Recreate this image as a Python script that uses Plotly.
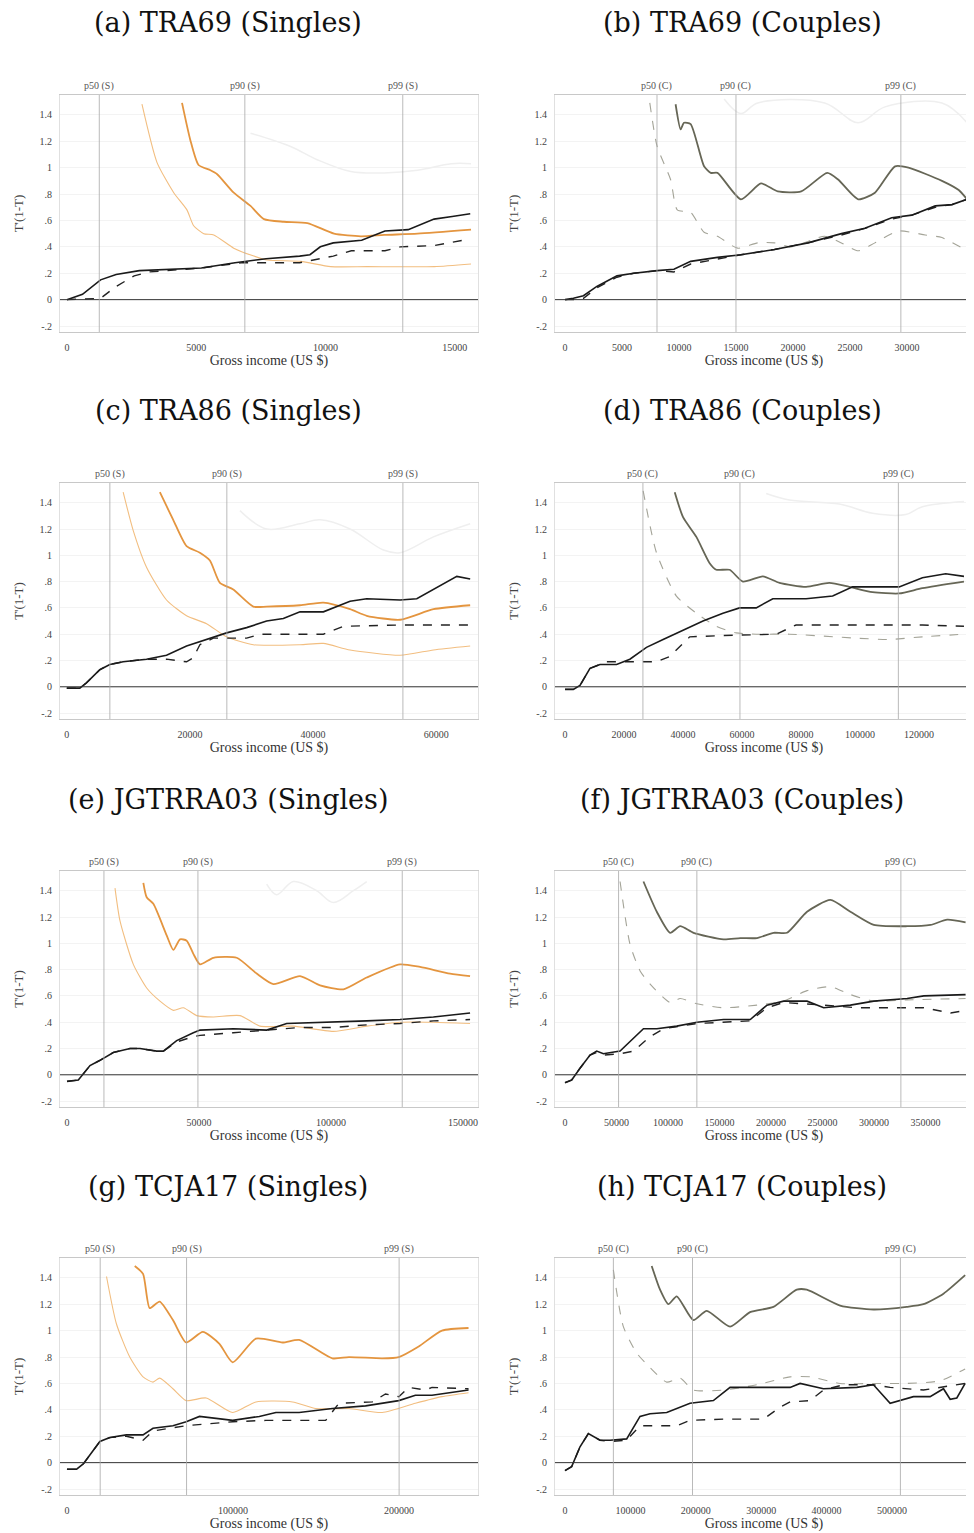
import plotly.graph_objects as go

# ---------------- data ----------------
titles = ["(a) TRA69 (Singles)", "(b) TRA69 (Couples)", "(c) TRA86 (Singles)", "(d) TRA86 (Couples)",
          "(e) JGTRRA03 (Singles)", "(f) JGTRRA03 (Couples)", "(g) TCJA17 (Singles)", "(h) TCJA17 (Couples)"]

y_tickvals = [-0.2, 0, 0.2, 0.4, 0.6, 0.8, 1.0, 1.2, 1.4]
y_ticktext = ["-.2", "0", ".2", ".4", ".6", ".8", "1", "1.2", "1.4"]

x_ticks_a = [0, 5000, 10000, 15000]
x_ticks_b = [0, 5000, 10000, 15000, 20000, 25000, 30000]
x_ticks_c = [0, 20000, 40000, 60000]
x_ticks_d = [0, 20000, 40000, 60000, 80000, 100000, 120000]
x_ticks_e = [0, 50000, 100000, 150000]
x_ticks_f = [0, 50000, 100000, 150000, 200000, 250000, 300000, 350000]
x_ticks_g = [0, 100000, 200000]
x_ticks_h = [0, 100000, 200000, 300000, 400000, 500000]

pct_a = [1250, 6880, 12990]
pct_b = [8070, 15000, 29470]
pct_c = [7000, 26000, 54600]
pct_d = [26400, 59300, 113000]
pct_e = [14000, 49600, 127000]
pct_f = [52000, 128000, 326000]
pct_g = [20000, 72000, 200000]
pct_h = [74000, 195000, 513000]

# (a) TRA69 Singles
a_solid_x = [0, 600, 1300, 1900, 2800, 3900, 5200, 6500, 6850, 7700, 9000, 9400, 9800, 10300, 11400, 12300, 13200, 13600, 14200, 14900, 15600]
a_solid_y = [0, 0.04, 0.15, 0.19, 0.22, 0.23, 0.24, 0.28, 0.29, 0.31, 0.33, 0.34, 0.40, 0.43, 0.45, 0.52, 0.53, 0.56, 0.61, 0.63, 0.65]
a_dash_x = [0, 1300, 1900, 2600, 3200, 5200, 6800, 7700, 9000, 10300, 11000, 12300, 12900, 14200, 15600]
a_dash_y = [0, 0.01, 0.10, 0.18, 0.21, 0.24, 0.28, 0.28, 0.28, 0.33, 0.37, 0.37, 0.40, 0.41, 0.46]
a_up_x = [4450, 4770, 5090, 5550, 5810, 6450, 7100, 7620, 8390, 9300, 10330, 11370, 12270, 13560, 15630]
a_up_y = [1.49, 1.21, 1.02, 0.98, 0.95, 0.81, 0.71, 0.61, 0.59, 0.58, 0.50, 0.48, 0.49, 0.50, 0.53]
a_lo_x = [2900, 3480, 4130, 4640, 4900, 5290, 5680, 6450, 7230, 7750, 9040, 10200, 11620, 14210, 15630]
a_lo_y = [1.48, 1.04, 0.81, 0.68, 0.56, 0.50, 0.49, 0.39, 0.33, 0.30, 0.29, 0.25, 0.25, 0.25, 0.27]
a_faint_x = [7100, 8650, 9680, 10980, 12270, 13560, 14860, 15630]
a_faint_y = [1.26, 1.16, 1.06, 0.97, 0.96, 0.98, 1.03, 1.03]

# (b) TRA69 Couples
b_solid_x = [0, 735, 1617, 2793, 4557, 6027, 8085, 9555, 11025, 13377, 15435, 18375, 21315, 24255, 26313, 28665, 30429, 32487, 33957, 35280]
b_solid_y = [0, 0.01, 0.03, 0.10, 0.18, 0.20, 0.22, 0.23, 0.29, 0.32, 0.34, 0.38, 0.43, 0.50, 0.54, 0.62, 0.64, 0.71, 0.72, 0.76]
b_dash_x = [0, 735, 1617, 2793, 4557, 6027, 8085, 9555, 11025, 13377, 15435, 18375, 21315, 24255, 26313, 28665, 30429, 32487, 33957, 35280]
b_dash_y = [0, 0.0, 0.01, 0.09, 0.17, 0.20, 0.22, 0.21, 0.27, 0.31, 0.34, 0.38, 0.43, 0.49, 0.54, 0.61, 0.64, 0.70, 0.72, 0.76]
b_up_x = [9702, 10143, 10437, 11025, 12201, 12789, 13377, 15435, 17199, 18669, 20727, 23010, 23961, 25725, 27195, 28959, 30135, 33075, 34545, 35280]
b_up_y = [1.48, 1.29, 1.34, 1.33, 1.01, 0.96, 0.96, 0.76, 0.88, 0.82, 0.82, 0.96, 0.91, 0.76, 0.81, 1.01, 1.00, 0.90, 0.83, 0.76]
b_lo_x = [7438, 8085, 9261, 9849, 11025, 12201, 13377, 15141, 16905, 18375, 19845, 22785, 24255, 25725, 27195, 29253, 31605, 33075, 35280]
b_lo_y = [1.49, 1.16, 0.91, 0.68, 0.66, 0.51, 0.48, 0.39, 0.43, 0.43, 0.40, 0.48, 0.43, 0.37, 0.43, 0.52, 0.49, 0.47, 0.37]
b_faint_x = [13965, 15435, 16905, 22785, 25725, 28077, 33075, 35280]
b_faint_y = [1.52, 1.41, 1.49, 1.49, 1.34, 1.46, 1.49, 1.34]

# (c) TRA86 Singles
c_solid_x = [0, 2114, 3198, 5366, 6992, 9160, 12954, 16206, 19458, 22710, 25962, 29214, 32466, 35176, 37886, 41680, 46016, 48726, 54146, 56856, 59566, 63360, 65528]
c_solid_y = [-0.01, -0.01, 0.03, 0.13, 0.17, 0.19, 0.21, 0.24, 0.31, 0.36, 0.41, 0.45, 0.50, 0.52, 0.57, 0.57, 0.65, 0.67, 0.66, 0.67, 0.74, 0.84, 0.82]
c_dash_x = [0, 2114, 3198, 5366, 6992, 9160, 12954, 16206, 19458, 20542, 21626, 23794, 25962, 29214, 31382, 41680, 44932, 54146, 65528]
c_dash_y = [-0.01, -0.01, 0.03, 0.13, 0.17, 0.19, 0.21, 0.21, 0.19, 0.22, 0.32, 0.37, 0.37, 0.37, 0.40, 0.40, 0.46, 0.47, 0.47]
c_up_x = [15122, 17290, 19458, 21626, 23252, 24878, 27046, 30298, 32466, 37886, 41680, 46016, 48726, 54146, 59566, 65528]
c_up_y = [1.48, 1.27, 1.07, 1.02, 0.96, 0.79, 0.74, 0.61, 0.61, 0.62, 0.64, 0.59, 0.54, 0.51, 0.59, 0.62]
c_lo_x = [9160, 10786, 12954, 16206, 19458, 22710, 25962, 30298, 37886, 41680, 46016, 54146, 59566, 65528]
c_lo_y = [1.48, 1.19, 0.91, 0.66, 0.54, 0.48, 0.38, 0.32, 0.32, 0.33, 0.28, 0.24, 0.28, 0.31]
c_faint_x = [28130, 32466, 37886, 41138, 46016, 51436, 54146, 59566, 65528]
c_faint_y = [1.34, 1.20, 1.24, 1.27, 1.20, 1.04, 1.02, 1.14, 1.24]

# (d) TRA86 Couples
d_solid_x = [0, 2818, 5072, 8453, 11834, 17469, 21977, 27612, 33247, 40009, 46771, 53533, 59168, 64803, 70438, 81708, 90724, 97486, 113264, 121153, 129042, 135240]
d_solid_y = [-0.02, -0.02, 0.01, 0.14, 0.17, 0.17, 0.21, 0.30, 0.36, 0.43, 0.50, 0.56, 0.60, 0.60, 0.67, 0.67, 0.69, 0.76, 0.76, 0.83, 0.86, 0.84]
d_dash_x = [0, 2818, 5072, 8453, 14088, 19723, 30993, 35501, 42263, 53533, 71565, 78327, 98613, 121153, 135240]
d_dash_y = [-0.02, -0.02, 0.01, 0.14, 0.19, 0.19, 0.19, 0.23, 0.38, 0.39, 0.40, 0.47, 0.47, 0.47, 0.46]
d_up_x = [37191, 40009, 44517, 49025, 51279, 55787, 60296, 67058, 72692, 81708, 89597, 96359, 104248, 113264, 121153, 135240]
d_up_y = [1.48, 1.29, 1.14, 0.94, 0.89, 0.89, 0.80, 0.84, 0.79, 0.76, 0.79, 0.76, 0.72, 0.71, 0.75, 0.80]
d_lo_x = [26485, 30993, 37755, 44517, 51279, 58041, 64803, 76073, 98613, 109883, 121153, 135240]
d_lo_y = [1.49, 1.02, 0.69, 0.56, 0.46, 0.41, 0.40, 0.40, 0.37, 0.36, 0.38, 0.40]
d_faint_x = [68184, 76073, 92978, 104248, 115518, 121153, 135240]
d_faint_y = [1.47, 1.42, 1.39, 1.32, 1.31, 1.37, 1.41]

# (e) JGTRRA03 Singles
e_solid_x = [0, 4294, 8715, 12504, 17556, 23871, 27660, 33975, 36501, 41553, 47868, 50394, 63024, 75654, 83232, 100914, 113544, 126174, 138804, 152697]
e_solid_y = [-0.05, -0.04, 0.07, 0.11, 0.17, 0.20, 0.20, 0.18, 0.18, 0.26, 0.32, 0.34, 0.35, 0.34, 0.39, 0.40, 0.41, 0.42, 0.44, 0.47]
e_dash_x = [0, 4294, 8715, 12504, 17556, 23871, 27660, 33975, 36501, 41553, 47868, 50394, 63024, 75654, 88284, 100914, 113544, 126174, 138804, 152697]
e_dash_y = [-0.05, -0.04, 0.07, 0.11, 0.17, 0.20, 0.20, 0.18, 0.18, 0.25, 0.29, 0.30, 0.32, 0.34, 0.36, 0.36, 0.38, 0.39, 0.41, 0.42]
e_up_x = [28923, 30186, 32712, 37764, 40290, 42816, 45342, 47868, 50394, 55446, 64287, 71865, 78180, 88284, 95862, 104727, 113544, 126174, 133752, 145119, 152697]
e_up_y = [1.46, 1.35, 1.30, 1.06, 0.95, 1.03, 1.02, 0.92, 0.84, 0.89, 0.89, 0.77, 0.69, 0.75, 0.68, 0.65, 0.74, 0.84, 0.82, 0.77, 0.75]
e_lo_x = [18187, 20082, 25134, 30186, 35238, 40290, 44079, 49131, 55446, 65550, 73128, 85758, 100914, 113544, 126174, 138804, 152697]
e_lo_y = [1.42, 1.17, 0.84, 0.66, 0.56, 0.49, 0.51, 0.45, 0.44, 0.45, 0.37, 0.37, 0.33, 0.37, 0.40, 0.40, 0.39]
e_faint_x = [75654, 79443, 85758, 94599, 100914, 108489, 113544]
e_faint_y = [1.45, 1.37, 1.47, 1.40, 1.31, 1.40, 1.47]

# (f) JGTRRA03 Couples
f_solid_x = [0, 6480, 14580, 24300, 30780, 37260, 53460, 63180, 76140, 89100, 108540, 127980, 153900, 179820, 196020, 212220, 234900, 251100, 277020, 299700, 332100, 348300, 388800]
f_solid_y = [-0.06, -0.04, 0.05, 0.15, 0.18, 0.16, 0.18, 0.25, 0.35, 0.35, 0.37, 0.40, 0.42, 0.42, 0.53, 0.56, 0.56, 0.51, 0.53, 0.56, 0.58, 0.60, 0.61]
f_dash_x = [0, 6480, 14580, 24300, 30780, 37260, 53460, 66420, 82620, 95580, 127980, 179820, 196020, 212220, 251100, 283500, 348300, 374220, 388800]
f_dash_y = [-0.06, -0.04, 0.05, 0.15, 0.17, 0.15, 0.16, 0.18, 0.29, 0.35, 0.39, 0.41, 0.51, 0.55, 0.53, 0.51, 0.51, 0.47, 0.49]
f_up_x = [76140, 89100, 102060, 111780, 124740, 153900, 170100, 186300, 202500, 215460, 234900, 257580, 277020, 299700, 332100, 354780, 370980, 388800]
f_up_y = [1.47, 1.24, 1.08, 1.13, 1.08, 1.03, 1.04, 1.04, 1.08, 1.08, 1.24, 1.33, 1.24, 1.14, 1.13, 1.14, 1.18, 1.16]
f_lo_x = [53460, 63180, 72900, 82620, 102060, 111780, 127980, 153900, 186300, 212220, 234900, 257580, 277020, 299700, 332100, 388800]
f_lo_y = [1.47, 0.99, 0.79, 0.69, 0.55, 0.58, 0.54, 0.51, 0.53, 0.56, 0.64, 0.67, 0.61, 0.56, 0.57, 0.58]

# (g) TCJA17 Singles
g_solid_x = [0, 5800, 9800, 15800, 19800, 25800, 35800, 45800, 51800, 63800, 71800, 79800, 99800, 115800, 125800, 139800, 159800, 179800, 199800, 209800, 219800, 241800]
g_solid_y = [-0.05, -0.05, -0.01, 0.09, 0.16, 0.19, 0.21, 0.21, 0.26, 0.28, 0.31, 0.35, 0.32, 0.35, 0.38, 0.38, 0.41, 0.43, 0.47, 0.51, 0.51, 0.55]
g_dash_x = [0, 5800, 9800, 15800, 19800, 25800, 35800, 45800, 51800, 71800, 99800, 119800, 155800, 163800, 183800, 191800, 199800, 205800, 215800, 219800, 241800]
g_dash_y = [-0.05, -0.05, -0.01, 0.09, 0.16, 0.19, 0.20, 0.17, 0.24, 0.28, 0.31, 0.32, 0.32, 0.45, 0.46, 0.52, 0.50, 0.57, 0.55, 0.57, 0.56]
g_up_x = [40800, 45800, 49800, 55800, 63800, 71800, 81800, 91800, 99800, 113800, 129800, 139800, 159800, 169800, 189800, 199800, 211800, 225800, 241800]
g_up_y = [1.49, 1.43, 1.17, 1.22, 1.08, 0.91, 0.99, 0.90, 0.76, 0.94, 0.91, 0.93, 0.79, 0.80, 0.79, 0.80, 0.88, 1.00, 1.02]
g_lo_x = [23800, 29800, 37800, 45800, 51800, 55800, 63800, 71800, 83800, 99800, 113800, 135800, 149800, 169800, 189800, 209800, 225800, 241800]
g_lo_y = [1.41, 1.05, 0.80, 0.65, 0.61, 0.64, 0.56, 0.47, 0.49, 0.38, 0.46, 0.46, 0.41, 0.41, 0.38, 0.45, 0.50, 0.53]

# (h) TCJA17 Couples
h_solid_x = [0, 10200, 22950, 35700, 53550, 68850, 94350, 114750, 130050, 155550, 191250, 226950, 252450, 293250, 344250, 359550, 395250, 446250, 471750, 497250, 532950, 558450, 578850, 589050, 599250, 612000]
h_solid_y = [-0.06, -0.03, 0.12, 0.22, 0.17, 0.17, 0.18, 0.35, 0.37, 0.38, 0.45, 0.47, 0.57, 0.57, 0.57, 0.60, 0.56, 0.57, 0.59, 0.45, 0.50, 0.50, 0.56, 0.48, 0.49, 0.60]
h_dash_x = [0, 10200, 22950, 35700, 53550, 68850, 94350, 114750, 171000, 191250, 242250, 303450, 328950, 344250, 374850, 395250, 425850, 471750, 497250, 548250, 612000]
h_dash_y = [-0.06, -0.03, 0.12, 0.22, 0.17, 0.16, 0.17, 0.28, 0.28, 0.32, 0.33, 0.33, 0.42, 0.46, 0.47, 0.55, 0.59, 0.59, 0.57, 0.55, 0.60]
h_up_x = [132600, 145350, 158100, 170850, 196350, 216750, 252450, 283050, 318750, 354450, 369750, 420750, 471750, 522750, 548250, 578850, 612000]
h_up_y = [1.49, 1.31, 1.20, 1.26, 1.08, 1.15, 1.03, 1.14, 1.18, 1.31, 1.31, 1.19, 1.16, 1.18, 1.20, 1.28, 1.42]
h_lo_x = [73950, 89250, 109650, 130050, 155550, 175950, 196350, 242250, 293250, 344250, 374850, 420750, 471750, 522750, 573750, 612000]
h_lo_y = [1.46, 1.03, 0.83, 0.72, 0.61, 0.64, 0.55, 0.55, 0.59, 0.65, 0.65, 0.60, 0.60, 0.60, 0.62, 0.71]

x_ranges = [[-270, 15900], [-880, 35800], [-1100, 66800], [-3400, 138300],
            [-2650, 155700], [-9700, 396000], [-4200, 247500], [-15300, 624000]]
y_range = [-0.245, 1.55]

# ---------------- figure ----------------
OFF = 8                      # default page margin of the HTML body
W, H = 974 - OFF, 1533 - OFF
SERIF = "Liberation Serif"
TITLE_FONT = "DejaVu Serif"

panels = [
    dict(solid=(a_solid_x, a_solid_y), dash=(a_dash_x, a_dash_y), up=(a_up_x, a_up_y), lo=(a_lo_x, a_lo_y), faint=(a_faint_x, a_faint_y), ticks=x_ticks_a, pct=pct_a, tag="S"),
    dict(solid=(b_solid_x, b_solid_y), dash=(b_dash_x, b_dash_y), up=(b_up_x, b_up_y), lo=(b_lo_x, b_lo_y), faint=(b_faint_x, b_faint_y), ticks=x_ticks_b, pct=pct_b, tag="C"),
    dict(solid=(c_solid_x, c_solid_y), dash=(c_dash_x, c_dash_y), up=(c_up_x, c_up_y), lo=(c_lo_x, c_lo_y), faint=(c_faint_x, c_faint_y), ticks=x_ticks_c, pct=pct_c, tag="S"),
    dict(solid=(d_solid_x, d_solid_y), dash=(d_dash_x, d_dash_y), up=(d_up_x, d_up_y), lo=(d_lo_x, d_lo_y), faint=(d_faint_x, d_faint_y), ticks=x_ticks_d, pct=pct_d, tag="C"),
    dict(solid=(e_solid_x, e_solid_y), dash=(e_dash_x, e_dash_y), up=(e_up_x, e_up_y), lo=(e_lo_x, e_lo_y), faint=(e_faint_x, e_faint_y), ticks=x_ticks_e, pct=pct_e, tag="S"),
    dict(solid=(f_solid_x, f_solid_y), dash=(f_dash_x, f_dash_y), up=(f_up_x, f_up_y), lo=(f_lo_x, f_lo_y), faint=None, ticks=x_ticks_f, pct=pct_f, tag="C"),
    dict(solid=(g_solid_x, g_solid_y), dash=(g_dash_x, g_dash_y), up=(g_up_x, g_up_y), lo=(g_lo_x, g_lo_y), faint=None, ticks=x_ticks_g, pct=pct_g, tag="S"),
    dict(solid=(h_solid_x, h_solid_y), dash=(h_dash_x, h_dash_y), up=(h_up_x, h_up_y), lo=(h_lo_x, h_lo_y), faint=None, ticks=x_ticks_h, pct=pct_h, tag="C"),
]

# layout positions in page pixels
col_px = [(60, 478), (555, 973)]
row_px = [(95, 332), (483, 719), (871, 1107), (1258, 1495)]
title_y_px = [22, 411, 799, 1186]
col_center_px = [228, 742]


def px_x(v):
    return (v - OFF) / W


def px_y(v):
    return 1 - (v - OFF) / H


fig = go.Figure()
layout = dict(width=W, height=H, margin=dict(l=0, r=0, t=0, b=0, autoexpand=False),
              paper_bgcolor="white", plot_bgcolor="white", showlegend=False)
shapes, annotations = [], []

for i, p in enumerate(panels):
    r, c = divmod(i, 2)
    n = "" if i == 0 else str(i + 1)
    xa, ya = "x" + n, "y" + n
    x0, x1 = col_px[c]
    y0, y1 = row_px[r]
    layout["xaxis" + n] = dict(
        domain=[px_x(x0), min(1.0, px_x(x1))], range=x_ranges[i], anchor=ya, automargin=False,
        tickvals=p["ticks"], ticktext=[str(t) for t in p["ticks"]],
        showgrid=False, zeroline=False, showline=True, linecolor="#c8c8c8", linewidth=1, mirror=True,
        ticks="", ticklen=0, ticklabelstandoff=6, tickfont=dict(family=SERIF, size=10, color="#444"),
        title=dict(text="Gross income (US $)", font=dict(family=SERIF, size=14, color="#333"), standoff=0),
    )
    layout["yaxis" + n] = dict(
        domain=[px_y(y1), px_y(y0)], range=y_range, anchor=xa, automargin=False,
        tickvals=y_tickvals, ticktext=y_ticktext,
        showgrid=True, gridcolor="#f3f3f3", gridwidth=1, zeroline=False,
        showline=True, linecolor="#e0e0e0", linewidth=1, mirror=True,
        ticks="", ticklen=0, ticklabelstandoff=5, tickfont=dict(family=SERIF, size=10, color="#444"),
        title=dict(text="T'(1-T)", font=dict(family=SERIF, size=13, color="#444"), standoff=12),
    )
    singles = p["tag"] == "S"
    up_color = "#e4953f" if singles else "#666656"
    lo_color = "#f2be80" if singles else "#a4a498"
    lo_dash = "solid" if singles else "dash"
    if p["faint"] is not None:
        fig.add_trace(go.Scatter(x=p["faint"][0], y=p["faint"][1], mode="lines", xaxis=xa, yaxis=ya,
                                 line=dict(color="#efefef", width=1.5, shape="spline")))
    fig.add_trace(go.Scatter(x=p["lo"][0], y=p["lo"][1], mode="lines", xaxis=xa, yaxis=ya,
                             line=dict(color=lo_color, width=1.1, dash=lo_dash, shape="spline", smoothing=0.6)))
    fig.add_trace(go.Scatter(x=p["up"][0], y=p["up"][1], mode="lines", xaxis=xa, yaxis=ya,
                             line=dict(color=up_color, width=1.8, shape="spline", smoothing=0.6)))
    fig.add_trace(go.Scatter(x=p["dash"][0], y=p["dash"][1], mode="lines", xaxis=xa, yaxis=ya,
                             line=dict(color="#222222", width=1.4, dash="dash")))
    fig.add_trace(go.Scatter(x=p["solid"][0], y=p["solid"][1], mode="lines", xaxis=xa, yaxis=ya,
                             line=dict(color="#1a1a1a", width=1.6)))
    # zero line
    shapes.append(dict(type="line", xref=xa + " domain", yref=ya, x0=0, x1=1, y0=0, y1=0,
                       line=dict(color="#333", width=1)))
    labels = ["p50", "p90", "p99"]
    for lab, pv in zip(labels, p["pct"]):
        shapes.append(dict(type="line", xref=xa, yref=ya + " domain", x0=pv, x1=pv, y0=0, y1=1,
                           line=dict(color="#a8a8a8", width=0.8)))
        annotations.append(dict(x=pv, y=1, xref=xa, yref=ya + " domain", yanchor="bottom", yshift=1,
                                text=f"{lab} ({p['tag']})", showarrow=False,
                                font=dict(family=SERIF, size=10, color="#555")))
    annotations.append(dict(x=px_x(col_center_px[c]), y=px_y(title_y_px[r]), xref="paper", yref="paper",
                            text=titles[i], showarrow=False, xanchor="center", yanchor="middle",
                            font=dict(family=TITLE_FONT, size=27, color="#111")))

layout["shapes"] = shapes
layout["annotations"] = annotations
fig.update_layout(**layout)
fig.write_html("out.html")
